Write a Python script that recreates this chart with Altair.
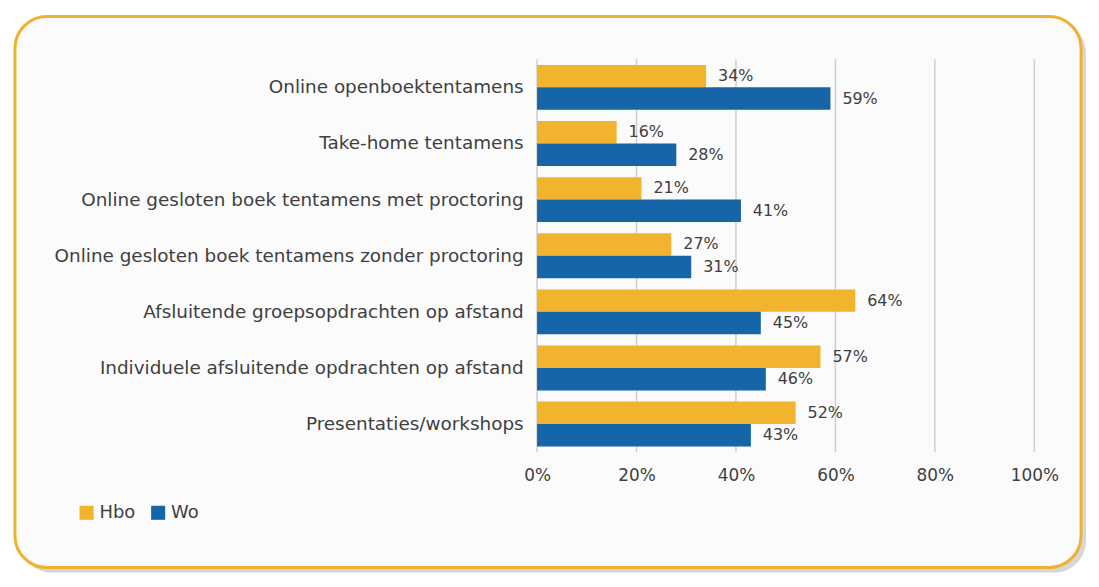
import altair as alt
import pandas as pd

categories = [
    "Online openboektentamens",
    "Take-home tentamens",
    "Online gesloten boek tentamens met proctoring",
    "Online gesloten boek tentamens zonder proctoring",
    "Afsluitende groepsopdrachten op afstand",
    "Individuele afsluitende opdrachten op afstand",
    "Presentaties/workshops",
]
hbo = [34, 16, 21, 27, 64, 57, 52]
wo = [59, 28, 41, 31, 45, 46, 43]
series = ["Hbo", "Wo"]
colors = ["#F2B32E", "#1565A8"]
ticks = [0, 20, 40, 60, 80, 100]

rows = []
for c, h, w in zip(categories, hbo, wo):
    rows.append({"cat": c, "serie": "Hbo", "val": h, "lbl": f"{h}%"})
    rows.append({"cat": c, "serie": "Wo", "val": w, "lbl": f"{w}%"})
df = pd.DataFrame(rows)

FONT = "DejaVu Sans"
TXT = "#404040"

xscale = alt.Scale(domain=[0, 100])

frame_data = pd.DataFrame({"k": [0]})
shadow = alt.Chart(frame_data).mark_rect(
    cornerRadius=32, fill="#BDBDBD", opacity=0.6
).encode(x=alt.value(-520), x2=alt.value(552), y=alt.value(-38), y2=alt.value(516))
frame = alt.Chart(frame_data).mark_rect(
    cornerRadius=32, fill="#FBFBFB", stroke="#F0B030", strokeWidth=3
).encode(x=alt.value(-525), x2=alt.value(547), y=alt.value(-43), y2=alt.value(511))

grid = alt.Chart(pd.DataFrame({"t": ticks})).mark_rule(
    color="#CFCFCF", strokeWidth=1.5
).encode(x=alt.X("t:Q", scale=xscale))

base = alt.Chart(df).encode(
    y=alt.Y(
        "cat:N",
        sort=categories,
        title=None,
        scale=alt.Scale(paddingInner=0.2, paddingOuter=0.1),
        axis=alt.Axis(
            labelFont=FONT, labelFontSize=18.5, labelColor=TXT, labelLimit=600,
            domain=False, ticks=False, labelPadding=14,
            minExtent=500, maxExtent=500, zindex=2,
        ),
    ),
    yOffset=alt.YOffset("serie:N", sort=series),
)

bars = base.mark_bar().encode(
    x=alt.X(
        "val:Q",
        scale=xscale,
        title=None,
        axis=alt.Axis(
            values=ticks, labelExpr="datum.value + '%'", grid=False,
            domain=False, ticks=False, labelFont=FONT, labelFontSize=17,
            labelColor=TXT, labelPadding=16, labelFlush=False, zindex=2,
        ),
    ),
    color=alt.Color(
        "serie:N",
        sort=series,
        scale=alt.Scale(domain=series, range=colors),
        legend=alt.Legend(
            title=None, orient="none", legendX=-462, legendY=447,
            direction="horizontal", symbolType="square", symbolSize=200,
            labelFont=FONT, labelFontSize=18, labelColor=TXT,
            symbolStrokeWidth=0, columnPadding=14, labelOffset=4,
        ),
    ),
)

labels = base.mark_text(
    align="left", baseline="middle", dx=12, font=FONT, fontSize=16, color=TXT
).encode(x=alt.X("val:Q", scale=xscale), text="lbl:N")

chart = alt.layer(shadow, frame, grid, bars, labels).properties(
    width=500, height=395, padding={"left": 5, "top": 5, "right": 5, "bottom": 5},
    background="white",
).configure_view(stroke=None)

chart.save("out.html", embed_options={"renderer": "svg", "actions": False})
